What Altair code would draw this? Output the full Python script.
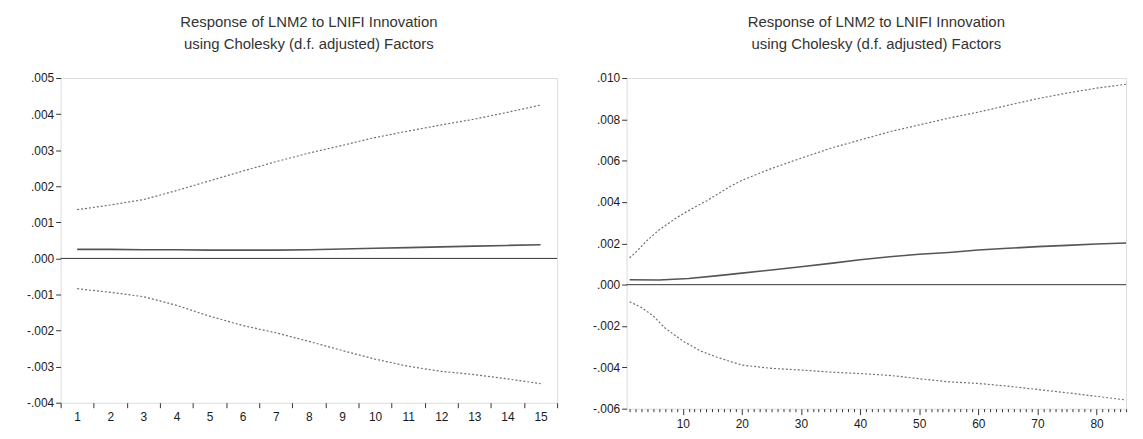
import altair as alt
import pandas as pd

TITLE = ["Response of LNM2 to LNIFI Innovation", "using Cholesky (d.f. adjusted) Factors"]

# ---- Left panel: 15 periods ----
l_period = list(range(1, 16))
l_upper = [0.00135, 0.00148, 0.00163, 0.00188, 0.00215, 0.00242, 0.00268, 0.00292,
           0.00313, 0.00335, 0.00353, 0.00370, 0.00386, 0.00405, 0.00425]
l_resp = [0.00025, 0.00025, 0.00024, 0.00024, 0.00023, 0.00023, 0.00023, 0.00024,
          0.00026, 0.00028, 0.00030, 0.00032, 0.00034, 0.00036, 0.00038]
l_lower = [-0.00084, -0.00094, -0.00106, -0.00130, -0.00160, -0.00186, -0.00206, -0.00230,
           -0.00255, -0.00279, -0.00299, -0.00313, -0.00322, -0.00334, -0.00347]

# ---- Right panel: 85 periods (values read at selected periods) ----
r_up_period = [1, 2, 3, 4, 5, 6, 7, 8, 9, 10, 12, 14, 16, 18, 20, 25, 30, 35, 40, 45,
               50, 55, 60, 65, 70, 75, 80, 85]
r_upper = [0.00130, 0.00155, 0.00185, 0.00215, 0.00240, 0.00265, 0.00285, 0.00305,
           0.00325, 0.00342, 0.00375, 0.00405, 0.00440, 0.00475, 0.00505, 0.00562,
           0.00612, 0.00660, 0.00700, 0.00740, 0.00773, 0.00806, 0.00835, 0.00868,
           0.00900, 0.00927, 0.00951, 0.00970]
r_resp_period = [1, 6, 11, 16, 20, 25, 30, 35, 40, 45, 50, 55, 60, 65, 70, 75, 80, 85]
r_resp = [0.00024, 0.00023, 0.00030, 0.00044, 0.00056, 0.00071, 0.00087, 0.00103,
          0.00121, 0.00135, 0.00147, 0.00156, 0.00168, 0.00176, 0.00184, 0.00190,
          0.00197, 0.00202]
r_lo_period = [1, 3, 5, 7, 10, 13, 16, 20, 25, 30, 35, 40, 45, 50, 55, 60, 65, 70,
               75, 80, 85]
r_lower = [-0.00083, -0.00110, -0.00151, -0.00210, -0.00272, -0.00321, -0.00353,
           -0.00389, -0.00405, -0.00413, -0.00423, -0.00430, -0.00439, -0.00455,
           -0.00470, -0.00478, -0.00491, -0.00507, -0.00523, -0.00540, -0.00558]

FONT = "Liberation Sans"
YLABEL = "replace(replace(format(datum.value, '.3f'), '0.', '.'), '\u2212', '-')"


def frame(periods_up, up, periods_lo, lo):
    rows = [{"period": p, "value": v, "band": "upper"} for p, v in zip(periods_up, up)]
    rows += [{"period": p, "value": v, "band": "lower"} for p, v in zip(periods_lo, lo)]
    return pd.DataFrame(rows)


def panel(band_df, resp_df, xdom, xvals, xlabel_expr, xtick_op, xtick_size,
          ydom, yvals, w, h):
    xs = alt.Scale(domain=xdom, nice=False, zero=False)
    ys = alt.Scale(domain=ydom, nice=False, zero=False)
    xax = alt.Axis(values=xvals, tickCount=500, labelExpr=xlabel_expr,
                   tickOpacity=xtick_op, tickSize=xtick_size, labelOverlap=False,
                   labelFlush=False, grid=False, title=None, domain=False,
                   labelFont=FONT, labelFontSize=12, labelColor="#1a1a1a",
                   tickColor="#333", labelPadding=4)
    yax = alt.Axis(values=yvals, tickCount=500, labelExpr=YLABEL, labelOverlap=False,
                   grid=False, title=None, domain=False, tickSize=5, labelFont=FONT,
                   labelFontSize=12, labelColor="#1a1a1a", tickColor="#333",
                   labelPadding=2)
    bands = alt.Chart(band_df).mark_line(
        color="#707070", strokeWidth=1.2, strokeDash=[2, 2]
    ).encode(
        x=alt.X("period:Q", scale=xs, axis=xax),
        y=alt.Y("value:Q", scale=ys, axis=yax),
        detail="band:N",
    )
    resp = alt.Chart(resp_df).mark_line(color="#555", strokeWidth=1.6).encode(
        x=alt.X("period:Q", scale=xs),
        y=alt.Y("value:Q", scale=ys),
    )
    zero = alt.Chart(pd.DataFrame({"z": [0.0]})).mark_rule(
        color="#333", strokeWidth=1
    ).encode(y=alt.Y("z:Q", scale=ys))
    return alt.layer(zero, bands, resp).properties(
        width=w, height=h,
        title=alt.Title(TITLE, font=FONT, fontSize=15, fontWeight="normal",
                        color="#333", anchor="middle", frame="group",
                        offset=20, lineHeight=22),
    )


left_band = frame(l_period, l_upper, l_period, l_lower)
left_resp = pd.DataFrame({"period": l_period, "value": l_resp})
lx_vals = [i / 2 for i in range(1, 32)]
left = panel(
    left_band, left_resp, [0.5, 15.5], lx_vals,
    "datum.value % 1 == 0 ? format(datum.value, 'd') : ''",
    {"condition": {"test": "datum.value % 1 == 0", "value": 0}, "value": 1},
    5,
    [-0.004, 0.005], [-0.004, -0.003, -0.002, -0.001, 0.0, 0.001, 0.002, 0.003, 0.004, 0.005],
    500, 327,
)

right_band = frame(r_up_period, r_upper, r_lo_period, r_lower)
right_resp = pd.DataFrame({"period": r_resp_period, "value": r_resp})
rx_vals = list(range(1, 86))
right = panel(
    right_band, right_resp, [0.5, 85], rx_vals,
    "datum.value % 10 == 0 ? format(datum.value, 'd') : ''",
    1,
    {"condition": {"test": "datum.value % 10 == 0", "value": 6}, "value": 3},
    [-0.006, 0.010], [-0.006, -0.004, -0.002, 0.0, 0.002, 0.004, 0.006, 0.008, 0.010],
    503, 333,
)

chart = alt.hconcat(left, right, spacing=34).properties(
    padding={"left": 18, "top": 5, "right": 5, "bottom": 5}
).configure_view(
    stroke="#333", strokeWidth=1.2
).configure(background="white")

chart.save("out.html", embed_options={"renderer": "svg", "actions": False})
